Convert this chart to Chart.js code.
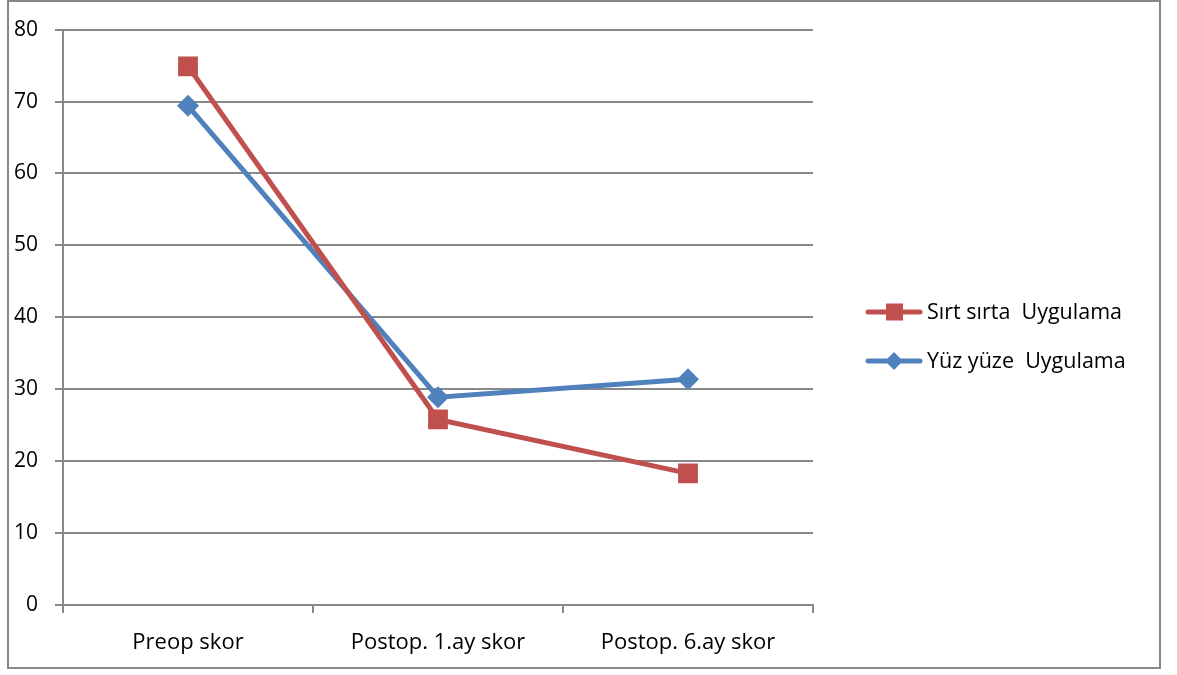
<!DOCTYPE html>
<html>
<head>
<meta charset="utf-8">
<script src="https://cdn.jsdelivr.net/npm/chart.js@4/dist/chart.umd.min.js"></script>
<style>
  html, body { margin: 0; padding: 0; background: #fff; }
  #wrap { width: 1177px; height: 675px; position: relative; }
</style>
</head>
<body>
<div id="wrap"><canvas id="chart"></canvas></div>
<script>
// data
var categories = ['Preop skor', 'Postop. 1.ay skor', 'Postop. 6.ay skor'];
var sirtSirta = [74.9, 25.8, 18.3];
var yuzYuze = [69.4, 28.9, 31.4];
var seriesNames = ['Sırt sırta  Uygulama', 'Yüz yüze  Uygulama'];
var yTicks = [0, 10, 20, 30, 40, 50, 60, 70, 80];

var RED = '#C0504D';
var BLUE = '#4F81BD';
var GRID = '#888888';
var FONT = '"Open Sans", "Noto Sans", sans-serif';

// frame round the whole figure + legend on the right
var framePlugin = {
    id: 'frame',
    beforeDraw: function (chart) {
        var c = chart.ctx;
        c.save();
        c.strokeStyle = GRID;
        c.lineWidth = 2;
        c.strokeRect(8, 1, 1152, 667);
        c.restore();
    },
    afterDraw: function (chart) {
        var c = chart.ctx;
        var ds = chart.data.datasets;
        c.save();
        c.font = '21.5px ' + FONT;
        c.textBaseline = 'middle';
        ds.forEach(function (d, i) {
            var y = 312 + i * 49;
            c.strokeStyle = d.borderColor;
            c.lineWidth = 5;
            c.lineCap = 'round';
            c.beginPath();
            c.moveTo(868, y);
            c.lineTo(920, y);
            c.stroke();
            c.fillStyle = d.backgroundColor;
            if (d.pointStyle === 'rect') {
                c.fillRect(886, y - 8.5, 17, 17);
            } else {
                c.beginPath();
                c.moveTo(894, y - 9);
                c.lineTo(903, y);
                c.lineTo(894, y + 9);
                c.lineTo(885, y);
                c.closePath();
                c.fill();
            }
            c.fillStyle = '#000';
            c.fillText(d.label, 927, y + 1);
        });
        c.restore();
    }
};

const ctx = document.getElementById('chart').getContext('2d');
var chart1 = new Chart(ctx, {
    type: 'line',
    data: {
        labels: categories,
        datasets: [
            {
                label: seriesNames[0],
                data: sirtSirta,
                borderColor: RED,
                backgroundColor: RED,
                borderWidth: 5,
                pointStyle: 'rect',
                pointRadius: 14,
                pointBorderWidth: 0,
                tension: 0
            },
            {
                label: seriesNames[1],
                data: yuzYuze,
                borderColor: BLUE,
                backgroundColor: BLUE,
                borderWidth: 5,
                pointStyle: 'rectRot',
                pointRadius: 11,
                pointBorderWidth: 0,
                tension: 0
            }
        ]
    },
    options: {
        responsive: true,
        maintainAspectRatio: false,
        animation: false,
        layout: {
            padding: { left: 0, top: 29, right: 364, bottom: 0 }
        },
        plugins: {
            legend: { display: false },
            tooltip: { enabled: false }
        },
        scales: {
            x: {
                offset: true,
                grid: {
                    offset: true,
                    drawOnChartArea: false,
                    color: GRID,
                    lineWidth: 2,
                    tickLength: 8
                },
                border: { color: GRID, width: 2 },
                ticks: {
                    color: '#000',
                    font: { family: FONT, size: 22 },
                    padding: 17,
                    maxRotation: 0
                },
                afterFit: function (s) { s.height = 70; }
            },
            y: {
                min: 0,
                max: 80,
                afterBuildTicks: function (s) {
                    s.ticks = yTicks.map(v => ({ value: v }));
                },
                grid: {
                    color: GRID,
                    lineWidth: 2,
                    tickLength: 8
                },
                border: { color: GRID, width: 2 },
                ticks: {
                    color: '#000',
                    font: { family: FONT, size: 21 },
                    padding: 17
                },
                afterFit: function (s) { s.width = 63; }
            }
        }
    },
    plugins: [framePlugin]
});
</script>
</body>
</html>
